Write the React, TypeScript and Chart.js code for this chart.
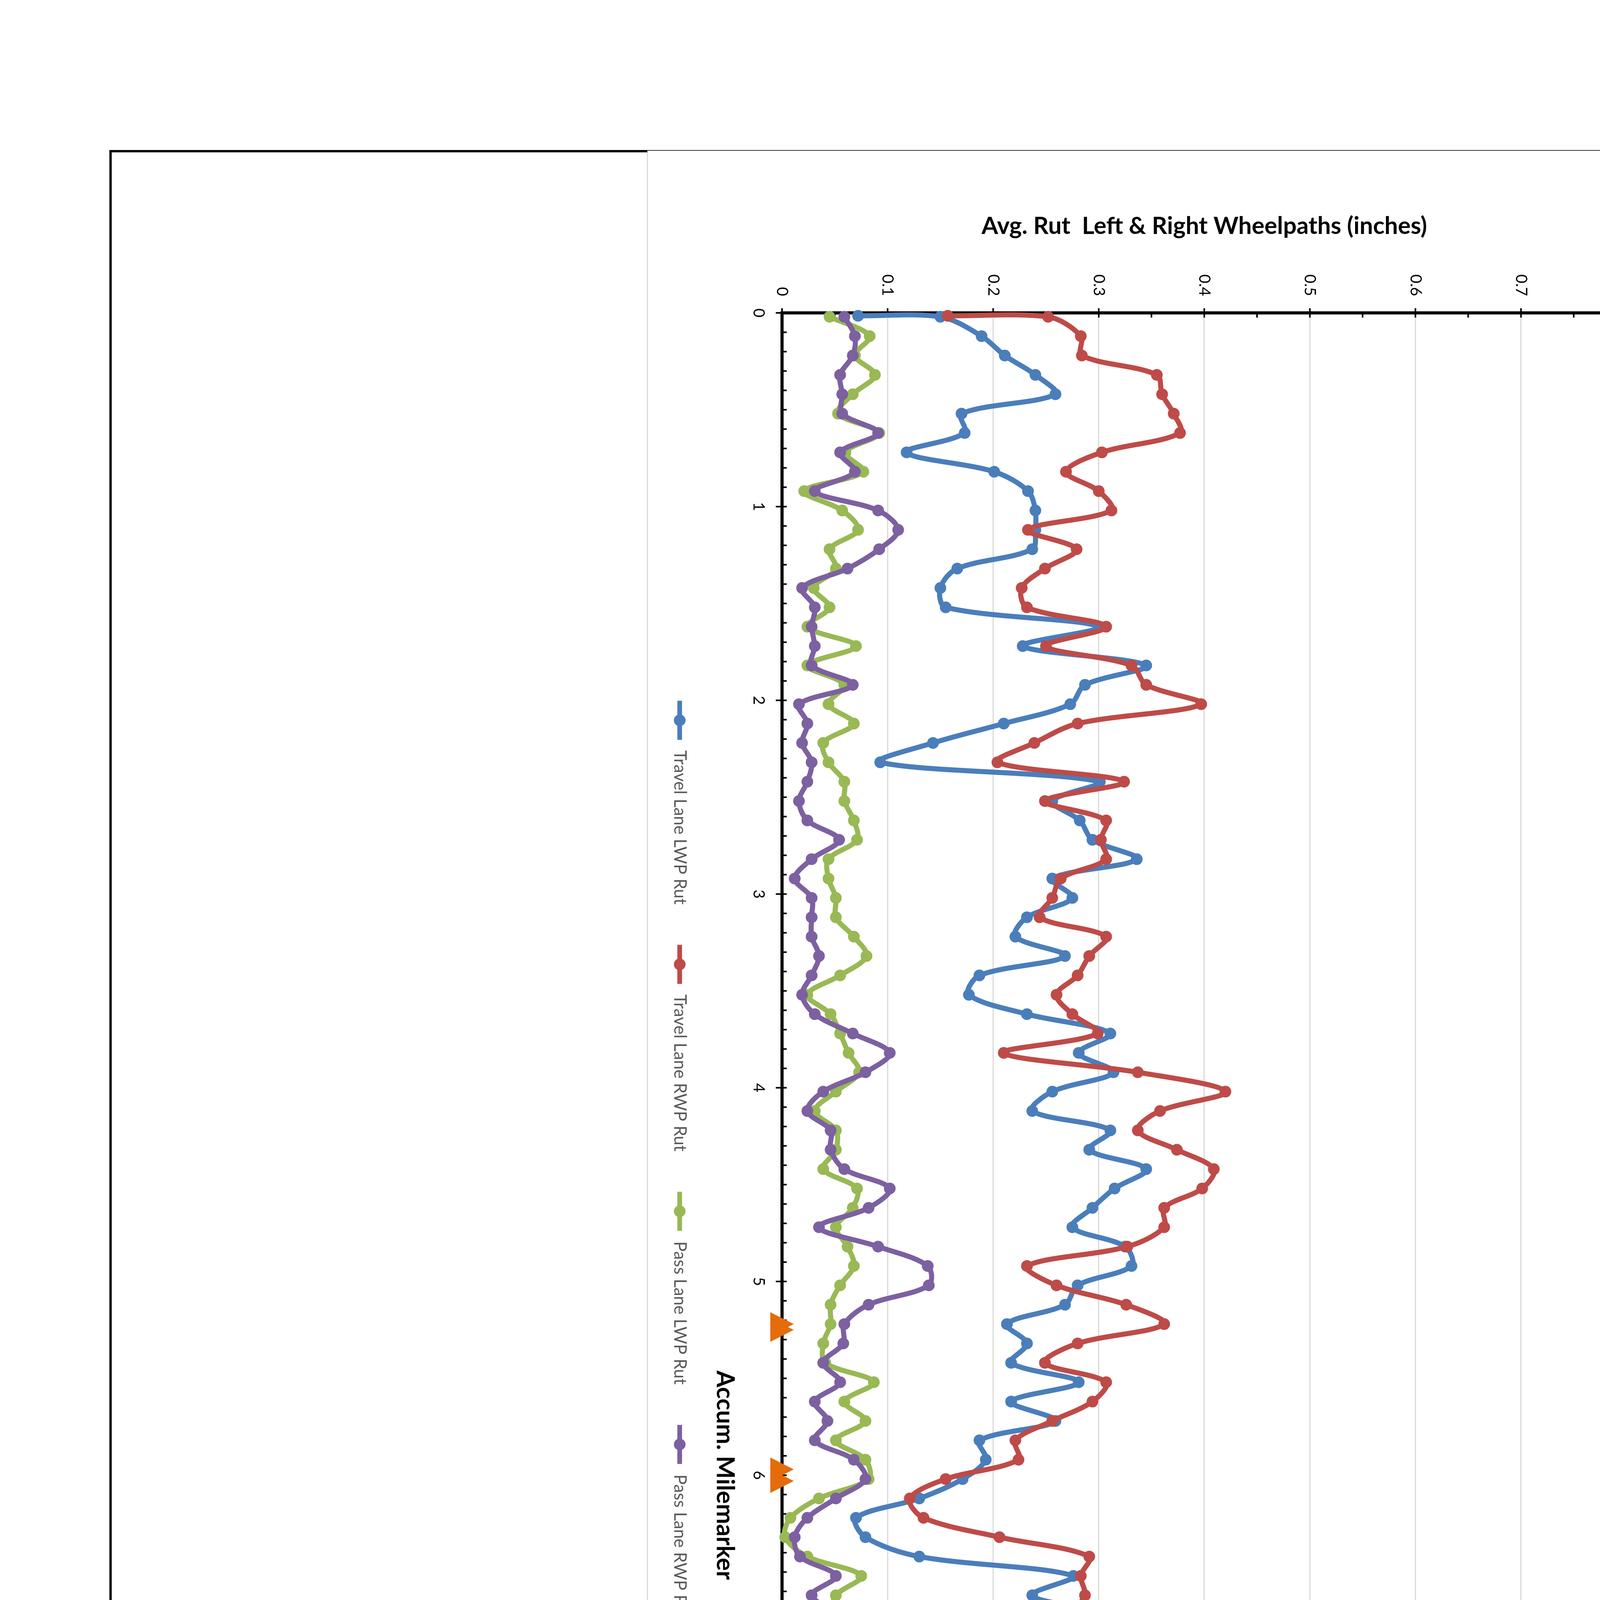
import React, { useEffect, useRef } from 'react';
import { Chart, registerables } from 'chart.js';

Chart.register(...registerables);

// ---------------- data ----------------
const MILES = [
  0.02, 0.12, 0.22, 0.32, 0.42, 0.52, 0.62, 0.72, 0.82, 0.92,
  1.02, 1.12, 1.22, 1.32, 1.42, 1.52, 1.62, 1.72, 1.82, 1.92,
  2.02, 2.12, 2.22, 2.32, 2.42, 2.52, 2.62, 2.72, 2.82, 2.92,
  3.02, 3.12, 3.22, 3.32, 3.42, 3.52, 3.62, 3.72, 3.82, 3.92,
  4.02, 4.12, 4.22, 4.32, 4.42, 4.52, 4.62, 4.72, 4.82, 4.92,
  5.02, 5.12, 5.22, 5.32, 5.42, 5.52, 5.62, 5.72, 5.82, 5.92,
  6.02, 6.12, 6.22, 6.32, 6.42, 6.52, 6.62, 6.72, 6.82, 6.92,
  7.02, 7.12, 7.22, 7.32, 7.42, 7.52, 7.62, 7.72, 7.82, 7.92,
  8.02, 8.12, 8.22, 8.32, 8.42, 8.52, 8.62, 8.72, 8.82, 8.92,
  9.02, 9.12, 9.22, 9.32, 9.42, 9.52, 9.62, 9.72, 9.82, 9.92,
  10.02, 10.12, 10.22, 10.32, 10.42, 10.52, 10.62, 10.72, 10.82, 10.92,
  11.02, 11.12, 11.22, 11.32, 11.42, 11.52, 11.62, 11.72, 11.82,
];

const TRAVEL_LWP = [
  0.150, 0.189, 0.211, 0.240, 0.259, 0.170, 0.173, 0.118, 0.201, 0.233,
  0.240, 0.240, 0.237, 0.166, 0.150, 0.155, 0.300, 0.228, 0.345, 0.287,
  0.273, 0.210, 0.143, 0.093, 0.301, 0.256, 0.282, 0.294, 0.336, 0.256,
  0.275, 0.232, 0.221, 0.268, 0.187, 0.177, 0.232, 0.311, 0.281, 0.314,
  0.256, 0.237, 0.311, 0.291, 0.345, 0.315, 0.294, 0.275, 0.325, 0.331,
  0.280, 0.268, 0.213, 0.232, 0.217, 0.281, 0.217, 0.259, 0.187, 0.193,
  0.171, 0.130, 0.070, 0.079, 0.130, 0.276, 0.237, 0.299, 0.291, 0.272,
  0.319, 0.377, 0.385, 0.319, 0.162, 0.158, 0.130, 0.194, 0.288, 0.244,
  0.353, 0.228, 0.201, 0.249, 0.101, 0.059, 0.181, 0.350, 0.311, 0.177,
  0.173, 0.162, 0.217, 0.252, 0.425, 0.402, 0.476, 0.331, 0.300, 0.465,
  0.312, 0.400, 0.365, 0.361, 0.619, 0.563, 0.382, 0.424, 0.312, 0.321,
  0.182, 0.471, 0.563, 0.608, 0.252, 0.162, 0.240, 0.232, 0.245,
];

const TRAVEL_RWP = [
  0.252, 0.283, 0.284, 0.355, 0.360, 0.371, 0.377, 0.303, 0.269, 0.300,
  0.312, 0.233, 0.279, 0.249, 0.227, 0.232, 0.307, 0.250, 0.331, 0.345,
  0.397, 0.280, 0.239, 0.204, 0.324, 0.249, 0.307, 0.302, 0.307, 0.264,
  0.256, 0.244, 0.307, 0.291, 0.280, 0.260, 0.275, 0.299, 0.210, 0.337,
  0.420, 0.358, 0.337, 0.374, 0.409, 0.398, 0.362, 0.362, 0.327, 0.232,
  0.260, 0.326, 0.362, 0.280, 0.249, 0.307, 0.294, 0.256, 0.221, 0.224,
  0.155, 0.121, 0.134, 0.206, 0.291, 0.283, 0.287, 0.275, 0.302, 0.279,
  0.335, 0.327, 0.382, 0.280, 0.201, 0.239, 0.237, 0.143, 0.302, 0.294,
  0.343, 0.170, 0.094, 0.186, 0.113, 0.068, 0.232, 0.252, 0.245, 0.155,
  0.177, 0.102, 0.118, 0.357, 0.388, 0.374, 0.449, 0.409, 0.415, 0.503,
  0.330, 0.524, 0.541, 0.530, 0.617, 0.642, 0.491, 0.319, 0.239, 0.225,
  0.211, 0.422, 0.456, 0.592, 0.186, 0.204, 0.198, 0.287, 0.210,
];

const PASS_LWP = [
  0.045, 0.083, 0.069, 0.088, 0.067, 0.053, 0.092, 0.060, 0.077, 0.021,
  0.057, 0.072, 0.045, 0.051, 0.030, 0.045, 0.024, 0.070, 0.024, 0.059,
  0.044, 0.068, 0.039, 0.044, 0.059, 0.059, 0.068, 0.071, 0.044, 0.044,
  0.051, 0.051, 0.068, 0.080, 0.055, 0.024, 0.046, 0.055, 0.063, 0.073,
  0.051, 0.031, 0.051, 0.051, 0.039, 0.071, 0.067, 0.051, 0.062, 0.068,
  0.055, 0.046, 0.046, 0.039, 0.041, 0.087, 0.059, 0.079, 0.051, 0.079,
  0.082, 0.035, 0.008, 0.003, 0.024, 0.075, 0.051, 0.046, 0.039, 0.043,
  0.063, 0.079, 0.109, 0.075, 0.079, 0.057, 0.039, 0.080, 0.080, 0.044,
  0.097, 0.075, 0.019, 0.036, 0.030, 0.045, 0.067, 0.044, 0.174, 0.070,
  0.082, 0.045, 0.082, 0.028, 0.117, 0.144, 0.087, 0.008, 0.043, 0.088,
  0.300, 0.417, 0.321, 0.370, 0.588, 0.514, 0.328, 0.393, 0.364, 0.377,
  0.182, 0.487, 0.570, 0.601, 0.267, 0.113, 0.239, 0.249, 0.081,
];

const PASS_RWP = [
  0.059, 0.069, 0.067, 0.055, 0.057, 0.057, 0.091, 0.055, 0.069, 0.031,
  0.091, 0.110, 0.092, 0.062, 0.019, 0.031, 0.028, 0.031, 0.028, 0.067,
  0.016, 0.024, 0.019, 0.028, 0.024, 0.016, 0.024, 0.054, 0.028, 0.012,
  0.028, 0.028, 0.028, 0.035, 0.028, 0.019, 0.031, 0.067, 0.102, 0.079,
  0.039, 0.024, 0.046, 0.046, 0.059, 0.102, 0.082, 0.035, 0.091, 0.138,
  0.139, 0.082, 0.059, 0.058, 0.039, 0.055, 0.031, 0.043, 0.031, 0.068,
  0.079, 0.051, 0.024, 0.012, 0.017, 0.051, 0.028, 0.055, 0.070, 0.070,
  0.070, 0.130, 0.102, 0.118, 0.068, 0.059, 0.070, 0.046, 0.028, 0.017,
  0.039, 0.058, 0.051, 0.039, 0.028, 0.043, 0.051, 0.046, 0.097, 0.039,
  0.091, 0.043, 0.055, 0.055, 0.057, 0.051, 0.050, 0.007, 0.009, 0.090,
  0.328, 0.503, 0.503, 0.512, 0.604, 0.637, 0.464, 0.326, 0.284, 0.218,
  0.280, 0.422, 0.458, 0.516, 0.252, 0.171, 0.182, 0.287, 0.074,
];

// first reading of the travel lane (taken just before the regular stations)
const LEAD_MILE = 0.015;
const TRAVEL_LWP_LEAD = 0.072;
const TRAVEL_RWP_LEAD = 0.157;

const BRIDGE_LIMIT_MILES = [5.22, 5.25, 5.97, 6.03, 7.45, 7.5, 8.17, 8.2, 8.54, 8.63, 11.53, 11.57];
const NEW_BRIDGE_MILES = [10.08, 11.08];

const SERIES_LABELS = [
  'Travel Lane LWP Rut',
  'Travel Lane RWP Rut',
  'Pass Lane LWP Rut',
  'Pass Lane RWP Rut',
  'Bridge Limits',
  'New Bridge Construction Area',
];

const MILE_MIN = 0;
const MILE_MAX = 12;
const MILE_STEP = 1;
const MILE_MINOR = 0.1;
const RUT_MIN = 0;
const RUT_MAX = 0.8;
const RUT_STEP = 0.1;
const RUT_MINOR = 0.05;

const TITLE = 'I-91 SB Guilford-Brattleboro IM SURF(61) PreCon Ruts';
const SUBTITLE = 'Profiled 12/21/2016';
const Y_TITLE = 'Avg. Rut  Left & Right Wheelpaths (inches)';
const X_TITLE = 'Accum. Milemarker';

// ---------------- style ----------------
const BLUE = '#4A7EBB';
const RED = '#BE4B48';
const GREEN = '#98B954';
const PURPLE = '#7D60A0';
const ORANGE = '#E46C0A';
const FONT = 'Lato';
const BLOCK_FONT = "'DejaVu Sans Condensed', 'DejaVu Sans', sans-serif";

// canvas (landscape, later rotated 90deg clockwise)
const CW = 6450;
const CH = 2851;
const AREA = { left: 417, top: 344, right: 6368, bottom: 2506 };
const TITLE_CY = 85;
const SUB_CY = 171;
const YTITLE_CX = 195;
const YTICK_RIGHT = 374;
const XTICK_CY = 2566;
const XTITLE_CY = 2653;
const LEGEND_CY = 2768;
const LEG_PAD = 85;
const SYM_C = 68;
const SYM_TEXT_GAP = 77;
const TICK_FONT = 40;

let measureCtx: CanvasRenderingContext2D | null = null;
function measure(text: string, font: string) {
  if (!measureCtx) measureCtx = document.createElement('canvas').getContext('2d');
  measureCtx!.font = font;
  return measureCtx!.measureText(text).width;
}
function fitSize(text: string, weight: string, target: number, family = FONT) {
  return (100 * target) / measure(text, `${weight} 100px ${family}`);
}

function makeSymbol(kind: string, color: string, W: number, c: number) {
  const H = 44;
  const cv = document.createElement('canvas');
  cv.width = Math.round(W);
  cv.height = H;
  const g = cv.getContext('2d')!;
  const cy = H / 2;
  g.fillStyle = color;
  g.strokeStyle = color;
  if (kind === 'line' || kind === 'lineDiamond') {
    g.lineWidth = 12;
    g.beginPath();
    g.moveTo(c - 50, cy);
    g.lineTo(c + 50, cy);
    g.stroke();
  }
  if (kind === 'line') {
    g.beginPath();
    g.arc(c, cy, 15, 0, Math.PI * 2);
    g.fill();
  } else if (kind === 'lineDiamond') {
    g.beginPath();
    g.moveTo(c, cy - 16);
    g.lineTo(c + 16, cy);
    g.lineTo(c, cy + 16);
    g.lineTo(c - 16, cy);
    g.closePath();
    g.fill();
  } else if (kind === 'triangle') {
    g.beginPath();
    g.moveTo(c, cy - 11);
    g.lineTo(c + 13, cy + 11);
    g.lineTo(c - 13, cy + 11);
    g.closePath();
    g.fill();
  }
  return cv;
}

function makeTriangleMarker() {
  const cv = document.createElement('canvas');
  cv.width = 61;
  cv.height = 60;
  const g = cv.getContext('2d')!;
  g.fillStyle = ORANGE;
  g.beginPath();
  g.moveTo(30.5, 0);
  g.lineTo(61, 60);
  g.lineTo(0, 60);
  g.closePath();
  g.fill();
  return cv;
}

const axisTicks = {
  id: 'axisTicks',
  beforeDatasetsDraw(chart: any) {
    const { ctx, chartArea, scales } = chart;
    const x = scales.x;
    const y = scales.y;
    ctx.save();
    ctx.strokeStyle = '#000';
    ctx.lineWidth = 4;
    ctx.beginPath();
    const nMile = Math.round((MILE_MAX - MILE_MIN) / MILE_MINOR);
    const perMajor = Math.round(MILE_STEP / MILE_MINOR);
    for (let i = 0; i <= nMile; i++) {
      const px = x.getPixelForValue(MILE_MIN + i * MILE_MINOR);
      if (i % perMajor === 0) {
        ctx.moveTo(px, chartArea.bottom - 12);
        ctx.lineTo(px, chartArea.bottom + 16);
      } else {
        ctx.moveTo(px, chartArea.bottom - 12);
        ctx.lineTo(px, chartArea.bottom);
      }
    }
    const nRut = Math.round((RUT_MAX - RUT_MIN) / RUT_MINOR);
    const perMajorR = Math.round(RUT_STEP / RUT_MINOR);
    for (let j = 0; j <= nRut; j++) {
      const py = y.getPixelForValue(RUT_MIN + j * RUT_MINOR);
      if (j % perMajorR === 0) {
        ctx.moveTo(chartArea.left - 12, py);
        ctx.lineTo(chartArea.left + 12, py);
      } else {
        ctx.moveTo(chartArea.left, py);
        ctx.lineTo(chartArea.left + 12, py);
      }
    }
    ctx.stroke();
    ctx.restore();
  },
};

function ChartBox() {
  const ref = useRef<HTMLCanvasElement>(null);
  useEffect(() => {
    const canvas = ref.current!;
    const titleSize = fitSize(TITLE, 'normal', 1645);
    const subSize = fitSize(SUBTITLE, 'normal', 522);
    const yTitleSize = fitSize(Y_TITLE, 'bold', 1141);
    const xTitleSize = fitSize(X_TITLE, 'bold', 536);
    const legendSize = fitSize(SERIES_LABELS[0], 'normal', 395);

    const legW = SYM_TEXT_GAP + SYM_C - legendSize / 2;
    const legendTop = LEGEND_CY - LEG_PAD - legendSize / 2;
    const legendH = legendSize + LEG_PAD + 10;
    const padBottom = CH - (legendTop + legendH);
    const xScaleH = legendTop - AREA.bottom;
    const xTitleLH = 0.2;
    const xTitlePb = legendTop - XTITLE_CY - (xTitleLH * xTitleSize) / 2;
    const lhT = 1.2 * titleSize;
    const ptT = TITLE_CY - lhT / 2;
    const titleH = TITLE_CY + lhT / 2;
    const lhS = 1.2 * subSize;
    const ptS = SUB_CY - titleH - lhS / 2;
    const pbS = AREA.top - SUB_CY - lhS / 2;
    const lhY = 1.2 * yTitleSize;
    const ptY = YTITLE_CX - lhY / 2;

    const symbols = [
      makeSymbol('line', BLUE, legW, SYM_C),
      makeSymbol('line', RED, legW, SYM_C),
      makeSymbol('line', GREEN, legW, SYM_C),
      makeSymbol('line', PURPLE, legW, SYM_C),
      makeSymbol('triangle', ORANGE, legW, SYM_C),
      makeSymbol('lineDiamond', PURPLE, legW, SYM_C),
    ];

    const pts = (vals: number[]) => MILES.map((m, i) => ({ x: m, y: vals[i] }));
    const lineDs = (label: string, data: any[], color: string, order: number) => ({
      label,
      data,
      borderColor: color,
      backgroundColor: color,
      pointBackgroundColor: color,
      pointBorderColor: color,
      borderWidth: 13,
      pointRadius: 14,
      pointBorderWidth: 2,
      pointHoverRadius: 14,
      tension: 0.33,
      fill: false,
      clip: false,
      order,
      borderJoinStyle: 'round',
      borderCapStyle: 'round',
    });

    const datasets: any[] = [
      lineDs(SERIES_LABELS[0], [{ x: LEAD_MILE, y: TRAVEL_LWP_LEAD }, ...pts(TRAVEL_LWP)], BLUE, 6),
      lineDs(SERIES_LABELS[1], [{ x: LEAD_MILE, y: TRAVEL_RWP_LEAD }, ...pts(TRAVEL_RWP)], RED, 5),
      lineDs(SERIES_LABELS[2], pts(PASS_LWP), GREEN, 4),
      lineDs(SERIES_LABELS[3], pts(PASS_RWP), PURPLE, 3),
      {
        label: SERIES_LABELS[4],
        data: BRIDGE_LIMIT_MILES.map((m) => ({ x: m, y: 0 })),
        showLine: false,
        pointStyle: makeTriangleMarker(),
        pointRadius: 30,
        borderColor: ORANGE,
        backgroundColor: ORANGE,
        clip: false,
        order: 2,
      },
      {
        label: SERIES_LABELS[5],
        data: NEW_BRIDGE_MILES.map((m) => ({ x: m, y: 0 })),
        showLine: true,
        borderColor: PURPLE,
        backgroundColor: PURPLE,
        pointBackgroundColor: PURPLE,
        pointBorderColor: PURPLE,
        borderWidth: 10,
        pointStyle: 'rectRot',
        pointRadius: 29,
        pointBorderWidth: 1,
        tension: 0,
        clip: false,
        order: 1,
      },
    ];

    const chart = new Chart(canvas, {
      type: 'line',
      data: { datasets },
      plugins: [axisTicks],
      options: {
        animation: false,
        responsive: false,
        maintainAspectRatio: false,
        devicePixelRatio: 1,
        events: [],
        layout: { padding: { left: 0, right: 0, top: 0, bottom: padBottom } },
        plugins: {
          tooltip: { enabled: false },
          title: {
            display: true,
            text: TITLE,
            color: '#595959',
            font: { family: FONT, size: titleSize, weight: 'normal' },
            padding: { top: ptT, bottom: 0 },
          },
          subtitle: {
            display: true,
            text: SUBTITLE,
            color: '#595959',
            font: { family: FONT, size: subSize, weight: 'normal' },
            padding: { top: ptS, bottom: pbS },
          },
          legend: {
            display: true,
            position: 'bottom',
            align: 'center',
            fullSize: true,
            labels: {
              usePointStyle: true,
              pointStyleWidth: legW,
              padding: LEG_PAD,
              color: '#595959',
              font: { family: FONT, size: legendSize },
              sort: (a: any, b: any) => a.datasetIndex - b.datasetIndex,
              generateLabels: (ch: any) =>
                (Chart.defaults.plugins.legend.labels.generateLabels as any)(ch).map((it: any) => ({
                  ...it,
                  pointStyle: symbols[it.datasetIndex],
                  fontColor: '#595959',
                  lineWidth: 0,
                })),
            },
          },
        },
        scales: {
          x: {
            type: 'linear',
            position: 'bottom',
            min: MILE_MIN,
            max: MILE_MAX,
            afterFit: (s: any) => {
              s.height = xScaleH;
              s.paddingRight = CW - AREA.right;
            },
            grid: { display: false, drawTicks: false },
            border: { display: true, color: '#000', width: 8 },
            ticks: {
              stepSize: MILE_STEP,
              autoSkip: false,
              maxRotation: 0,
              minRotation: 0,
              color: '#000',
              padding: XTICK_CY - AREA.bottom - (1.2 * TICK_FONT) / 2,
              font: { family: FONT, size: TICK_FONT },
            },
            title: {
              display: true,
              text: X_TITLE,
              color: '#000',
              font: { family: FONT, size: xTitleSize, weight: 'bold', lineHeight: xTitleLH },
              padding: { top: 0, bottom: xTitlePb },
            },
          },
          y: {
            type: 'linear',
            position: 'left',
            min: RUT_MIN,
            max: RUT_MAX,
            afterFit: (s: any) => {
              s.width = AREA.left;
            },
            grid: { display: true, drawTicks: false, color: '#D9D9D9', lineWidth: 3 },
            border: { display: true, color: '#000', width: 8 },
            ticks: {
              stepSize: RUT_STEP,
              color: '#000',
              padding: AREA.left - YTICK_RIGHT,
              font: { family: FONT, size: TICK_FONT },
            },
            title: {
              display: true,
              text: Y_TITLE,
              color: '#000',
              font: { family: FONT, size: yTitleSize, weight: 'bold' },
              padding: { top: ptY, bottom: 0 },
            },
          },
        },
      } as any,
    });
    return () => chart.destroy();
  }, []);

  return (
    <div
      style={{
        position: 'absolute',
        left: 4508,
        top: 384,
        width: CW,
        height: CH,
        transform: 'rotate(90deg)',
        transformOrigin: '0 0',
        background: '#fff',
      }}
    >
      <canvas ref={ref} width={CW} height={CH} style={{ display: 'block', width: CW, height: CH }} />
    </div>
  );
}

function FitText({ text, x, capTop, size, width }: any) {
  const w = measure(text, `normal ${size}px ${BLOCK_FONT}`);
  const sx = width / w;
  return (
    <div
      style={{
        position: 'absolute',
        left: x,
        top: capTop - 0.12 * size,
        fontSize: size,
        lineHeight: `${size}px`,
        fontFamily: BLOCK_FONT,
        whiteSpace: 'pre',
        color: '#000',
        transform: `scaleX(${sx})`,
        transformOrigin: '0 0',
      }}
    >
      {text}
    </div>
  );
}

const BLOCK_TEXT = [
  { text: 'PROJECT NAME:', x: 35, capTop: 30, size: 40, width: 275 },
  { text: 'GUILFORD-BRATTLEBORO', x: 418, capTop: 22, size: 62, width: 727 },
  { text: 'PROJECT NUMBER:', x: 35, capTop: 100, size: 40, width: 330 },
  { text: 'IM SURF(61)', x: 500, capTop: 94, size: 60, width: 277 },
  { text: 'FILE NAME: i6vill.dgn', x: 35, capTop: 187, size: 39, width: 369 },
  { text: 'PLOT DATE: 14-AUG-2017', x: 897, capTop: 187, size: 39, width: 464 },
  { text: 'PROJECT LEADER:', x: 35, capTop: 237, size: 39, width: 244 },
  { text: 'B. KIPP', x: 322, capTop: 237, size: 39, width: 150 },
  { text: 'DRAWN BY:', x: 897, capTop: 237, size: 39, width: 191 },
  { text: 'B. KIPP', x: 1145, capTop: 237, size: 39, width: 120 },
  { text: 'DESIGNED BY:', x: 35, capTop: 289, size: 39, width: 225 },
  { text: 'B. KIPP', x: 380, capTop: 289, size: 39, width: 120 },
  { text: 'CHECKED BY: M. FOWLER', x: 897, capTop: 289, size: 39, width: 435 },
  { text: 'RUTTING DATA INFORMATION SHEET', x: 35, capTop: 340, size: 39, width: 646 },
  { text: 'SHEET', x: 897, capTop: 340, size: 39, width: 91 },
  { text: '51', x: 1085, capTop: 340, size: 39, width: 43 },
  { text: 'OF', x: 1171, capTop: 340, size: 39, width: 48 },
  { text: '52', x: 1286, capTop: 340, size: 39, width: 43 },
];

function Rect({ x, y, w, h, c }: any) {
  return <div style={{ position: 'absolute', left: x, top: y, width: w, height: h, background: c }} />;
}

export default function App() {
  return (
    <div
      style={{
        position: 'absolute',
        left: 0,
        top: 0,
        width: 4576,
        height: 6895,
        background: '#fff',
        overflow: 'hidden',
      }}
    >
      <ChartBox />
      {/* chart area border */}
      <Rect x={1656} y={384} w={3} h={6450} c="#D9D9D9" />
      <Rect x={4507} y={386} w={3} h={6446} c="#D9D9D9" />
      <Rect x={1657} y={384} w={2858} h={2} c="#333" />
      {/* drawing frame */}
      <Rect x={280} y={384} w={1377} h={6} c="#000" />
      <Rect x={280} y={384} w={6} h={6453} c="#000" />
      <Rect x={4512} y={384} w={6} h={6453} c="#000" />
      <Rect x={280} y={6831} w={4238} h={6} c="#000" />
      {/* title block */}
      <Rect x={283} y={5362} w={390} h={6} c="#000" />
      <Rect x={507} y={5362} w={6} h={1472} c="#000" />
      <Rect x={667} y={5362} w={6} h={1472} c="#000" />
      <div
        style={{
          position: 'absolute',
          left: 672,
          top: 5365,
          width: 1477,
          height: 389,
          transform: 'rotate(90deg)',
          transformOrigin: '0 0',
        }}
      >
        {BLOCK_TEXT.map((t, i) => (
          <FitText key={i} {...t} />
        ))}
      </div>
    </div>
  );
}
